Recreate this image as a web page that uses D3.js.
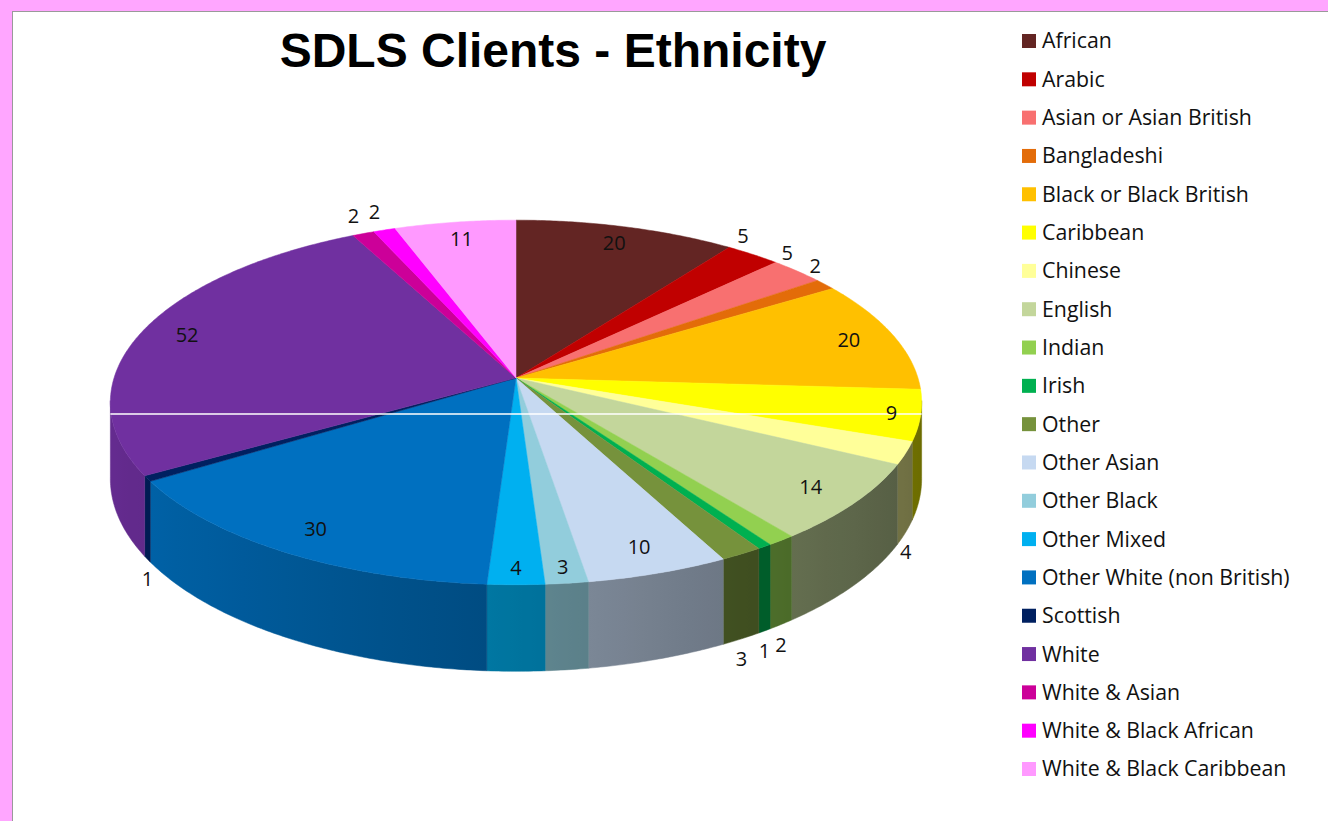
<!DOCTYPE html>
<html>
<head>
<meta charset="utf-8">
<title>SDLS Clients - Ethnicity</title>
<script src="https://cdn.jsdelivr.net/npm/d3@7"></script>
<style>
  body { margin: 0; background: #ffa6ff; }
  svg { display: block; }
  .title { font-family: "Liberation Sans", Arial, sans-serif; font-weight: bold; font-size: 48px; fill: #000; }
  .lbl { font-family: "Open Sans", Lato, sans-serif; font-size: 20px; fill: #111; }
  .legend text { font-family: "Open Sans", Lato, sans-serif; font-size: 21.3px; fill: #111; }
</style>
</head>
<body>
<div id="chart"></div>
<script>
var categories = ["African", "Arabic", "Asian or Asian British", "Bangladeshi",
  "Black or Black British", "Caribbean", "Chinese", "English", "Indian", "Irish",
  "Other", "Other Asian", "Other Black", "Other Mixed", "Other White (non British)",
  "Scottish", "White", "White & Asian", "White & Black African", "White & Black Caribbean"];
var values = [20, 5, 5, 2, 20, 9, 4, 14, 2, 1, 3, 10, 3, 4, 30, 1, 52, 2, 2, 11];
var colors = ["#632523", "#c00000", "#f87070", "#e36c09", "#ffc000", "#ffff00",
  "#ffff99", "#c3d69b", "#92d050", "#00b050", "#76923c", "#c6d9f1", "#92cddc",
  "#00b0f0", "#0070c0", "#002060", "#7030a0", "#cc0099", "#ff00ff", "#ff99ff"];

var width = 1328, height = 821;
var svg = d3.select("#chart").append("svg")
    .attr("width", width)
    .attr("height", height);
var defs = svg.append("defs");

// pink frame + white panel
svg.append("rect").attr("width", width).attr("height", height).attr("fill", "#ffa6ff");
svg.append("rect")
    .attr("x", 12.5).attr("y", 11.5)
    .attr("width", width).attr("height", height)
    .attr("fill", "#fff").attr("stroke", "#9a9a9a");

svg.append("text").attr("class", "title")
    .attr("x", 553).attr("y", 67)
    .attr("text-anchor", "middle")
    .text("SDLS Clients - Ethnicity");

var data = categories.map(function(c, i) {
  return {name: c, value: values[i], color: colors[i]};
});

/* perspective disk: u across, v towards viewer, h down the side */
var cx = 516, cy = 378, A = 402, B = 179, k = 0.134, depth = 75;
function proj(r, a, h) {
  var u = r * Math.sin(a), v = -r * Math.cos(a), w = 1 - k * v;
  return [cx + A * u / w, cy + (B * v + depth * (h || 0)) / w];
}

var pie = d3.pie().sort(null).value(function(d) { return d.value; });
var arcs = pie(data);
var step = Math.PI / 360;

function arcPoints(a0, a1, h) {
  var n = Math.max(1, Math.ceil((a1 - a0) / step)), pts = [];
  for (var i = 0; i <= n; i++) pts.push(proj(1, a0 + (a1 - a0) * i / n, h));
  return pts;
}

// light falls from the left: darker towards the right side of the rim
function shade(color, a) {
  var f = 0.42 + 0.48 * (1 - Math.sin(a)) / 2, c = d3.rgb(color);
  return d3.rgb(c.r * f, c.g * f, c.b * f).toString();
}

// side walls, only the part of the rim facing the viewer
var visFrom = Math.acos(-k), visTo = 2 * Math.PI - visFrom;
var walls = svg.append("g").attr("class", "walls");
arcs.forEach(function(d, i) {
  var a0 = Math.max(d.startAngle, visFrom - 0.01), a1 = Math.min(d.endAngle, visTo + 0.01);
  if (a1 <= a0) return;
  var top = arcPoints(a0, a1, 0), bot = arcPoints(a0, a1, 1).reverse();
  var xs = top.map(function(p) { return p[0]; });
  var xmin = d3.min(xs), xmax = d3.max(xs);
  var grad = defs.append("linearGradient")
      .attr("id", "wall" + i)
      .attr("gradientUnits", "userSpaceOnUse")
      .attr("x1", xmin).attr("x2", xmax + 0.01).attr("y1", 0).attr("y2", 0);
  var n = 8;
  d3.range(n + 1).map(function(j) {
    var a = a0 + (a1 - a0) * j / n;
    return {off: (proj(1, a, 0)[0] - xmin) / (xmax + 0.01 - xmin), col: shade(d.data.color, a)};
  }).sort(function(p, q) { return p.off - q.off; })
    .forEach(function(s) {
      grad.append("stop").attr("offset", Math.max(0, Math.min(1, s.off))).attr("stop-color", s.col);
    });
  walls.append("path")
      .attr("d", d3.line()(top.concat(bot)) + "Z")
      .attr("fill", "url(#wall" + i + ")")
      .attr("stroke", "url(#wall" + i + ")")
      .attr("stroke-width", 0.5);
});

// top faces
svg.append("g").attr("class", "slices")
  .selectAll("path").data(arcs).enter().append("path")
    .attr("d", function(d) {
      return d3.line()([[cx, cy]].concat(arcPoints(d.startAngle, d.endAngle, 0))) + "Z";
    })
    .attr("fill", function(d) { return d.data.color; })
    .attr("stroke", function(d) { return d.data.color; })
    .attr("stroke-width", 0.5);

// stray scan line across the pie in the source image
var half = A / Math.sqrt(1 - k * k);
svg.append("line")
    .attr("x1", cx - half).attr("x2", cx + half)
    .attr("y1", cy + 36).attr("y2", cy + 36)
    .attr("stroke", "#fff").attr("stroke-width", 1.5);

// data labels
svg.append("g").selectAll("text").data(arcs).enter().append("text")
    .attr("class", "lbl")
    .attr("text-anchor", "middle")
    .attr("dy", "0.35em")
    .each(function(d) {
      var mid = (d.startAngle + d.endAngle) / 2, p;
      var inside = d.value >= 9 || (d.value >= 3 && Math.abs(mid - Math.PI) < 0.35);
      if (inside) p = proj(d.value < 10 ? 0.93 : 0.88, mid, 0);
      else if (-Math.cos(mid) > 0) { p = proj(1, mid, 1); p[1] += 20; }
      else { p = proj(1, mid, 0); p[0] -= 10; p[1] -= 18; }
      d3.select(this).attr("x", p[0]).attr("y", p[1]);
    })
    .text(function(d) { return d.value; });

// legend
var ly = d3.scalePoint().domain(categories).range([41, 769]);
var legend = svg.append("g").attr("class", "legend")
  .selectAll("g").data(data).enter().append("g")
    .attr("transform", function(d) { return "translate(1022," + ly(d.name) + ")"; });
legend.append("rect")
    .attr("y", -7).attr("width", 14).attr("height", 14)
    .attr("fill", function(d) { return d.color; });
legend.append("text")
    .attr("x", 20).attr("dy", "0.35em")
    .text(function(d) { return d.name; });
</script>
</body>
</html>
